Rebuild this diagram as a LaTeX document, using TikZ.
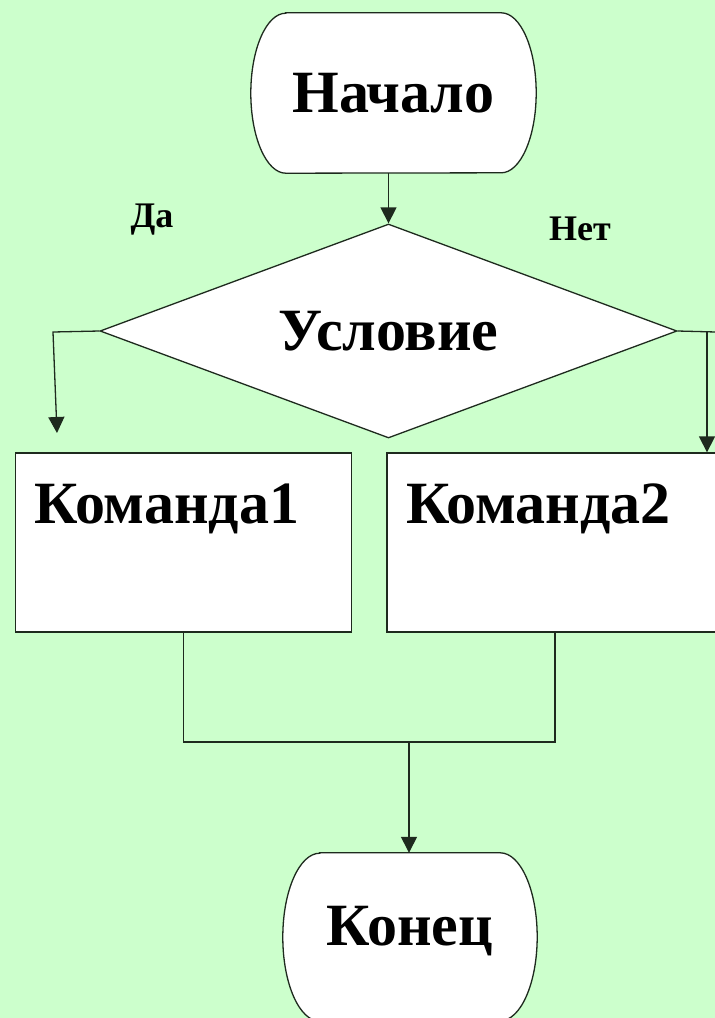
\documentclass[tikz,border=0pt]{standalone}
\usepackage{fontspec}
\setmainfont{Liberation Serif}
\usetikzlibrary{arrows.meta,positioning,shapes.geometric,backgrounds}
\definecolor{chartgreen}{HTML}{CCFFCC}
\definecolor{chartline}{HTML}{1E2A1E}
\tikzset{
  termbox/.style={
    rectangle,
    inner sep=0pt,
    font=\fontsize{60}{72}\selectfont\bfseries
  },
  termline/.style={
    draw=chartline,
    fill=white,
    line width=1.3pt
  },
  condbox/.style={
    diamond,
    aspect=2.7,
    draw=chartline,
    fill=white,
    line width=1.3pt,
    minimum width=577pt,
    minimum height=214pt,
    inner sep=0pt,
    font=\fontsize{60}{72}\selectfont\bfseries
  },
  cmdbox/.style={
    rectangle,
    draw=chartline,
    fill=white,
    line width=1.3pt,
    inner xsep=19pt,
    inner ysep=0pt,
    text width=298pt,
    text height=70pt,
    text depth=109pt,
    align=left,
    font=\fontsize{60}{72}\selectfont\bfseries
  },
  answer/.style={
    font=\fontsize{36}{43}\selectfont\bfseries
  },
  link/.style={
    line width=1.3pt,
    draw=chartline
  },
  arrow/.style={
    -{Triangle[length=16pt,width=16pt]},
    line width=1.3pt,
    draw=chartline
  }
}
% outline of a terminal with half-ellipse sides
\newcommand{\termoutline}[3]{%
  \draw[termline] ([xshift=#2]#1.north west) -- ([xshift=-#2]#1.north east)
    arc[start angle=90, end angle=-90, x radius=#2, y radius=#3]
    -- ([xshift=#2]#1.south west)
    arc[start angle=270, end angle=90, x radius=#2, y radius=#3] -- cycle;}

\begin{document}
\begin{tikzpicture}[x=1pt,y=-1pt]
\useasboundingbox (0,0) rectangle (715,1018);

\node[termbox, minimum width=285pt, minimum height=160pt] (start) at (393.5,93) {Начало};
\node[condbox] (cond) at (388.5,331) {Условие};
\node[cmdbox] (cmd1) at (183.5,542.5) {Команда1};
\node[cmdbox] (cmd2) at (555,542.5) {Команда2};
\node[termbox, minimum width=254pt, minimum height=168pt, text depth=22pt] (stop) at (410,937) {Конец};

\node[answer] (yes) at (152,220) {Да};
\node[answer] (no) at (580,229) {Нет};

\begin{scope}[on background layer]
\fill[chartgreen] (0,0) rectangle (715,1018);
\termoutline{start}{35pt}{80pt}
\termoutline{stop}{37pt}{84pt}
\end{scope}

\coordinate (yesturn) at (53,332);
\coordinate (yesend) at (57,433);
\coordinate (noturn) at (707,332);
\coordinate (noedge) at (716,332);
\coordinate (merge) at (409,742);

\draw[arrow] (start.south -| cond.north) -- (cond.north);
\draw[arrow] (cond.west) -- (yesturn) -- (yesend);
\draw[link] (cond.east) -- (noedge);
\draw[arrow] (noturn) -- (noturn |- cmd2.north);
\draw[link] (cmd1.south) |- (merge) -| (cmd2.south);
\draw[arrow] (merge) -- (merge |- stop.north);
\end{tikzpicture}
\end{document}
